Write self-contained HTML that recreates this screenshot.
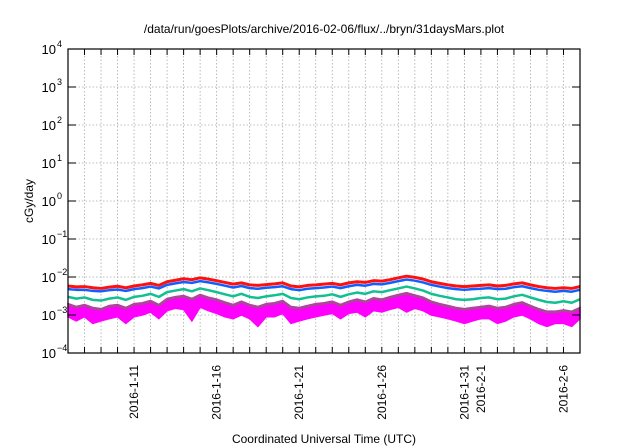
<!DOCTYPE html>
<html><head><meta charset="utf-8"><style>
html,body{margin:0;padding:0;background:#fff;width:640px;height:448px;overflow:hidden}
text{font-family:"Liberation Sans",sans-serif;fill:#000}
</style></head><body>
<svg id="chart" width="640" height="448" viewBox="0 0 640 448" xmlns="http://www.w3.org/2000/svg">
<text x="324" y="33" font-size="12" text-anchor="middle">/data/run/goesPlots/archive/2016-02-06/flux/../bryn/31daysMars.plot</text>
<text transform="translate(33,201) rotate(-90)" font-size="12" text-anchor="middle">cGy/day</text>
<text x="324" y="443" font-size="12" text-anchor="middle">Coordinated Universal Time (UTC)</text>
<g id="grid"></g><g id="series"></g><g id="axes"></g>
</svg>
<script>
const decades = [-4,-3,-2,-1,0,1,2,3,4];
const dayCount = 31;
const xLabelDays = [4,9,14,19,24,25,30];
const xLabels = ["2016-1-11","2016-1-16","2016-1-21","2016-1-26","2016-1-31","2016-2-1","2016-2-6"];
const red = [0.0058,0.0055,0.0056,0.0052,0.0050,0.0054,0.0057,0.0052,0.0058,0.0062,0.0068,0.0060,0.0075,0.0082,0.0090,0.0085,0.0095,0.0088,0.0080,0.0072,0.0065,0.0070,0.0062,0.0060,0.0063,0.0066,0.0070,0.0058,0.0055,0.0060,0.0062,0.0065,0.0068,0.0062,0.0070,0.0075,0.0072,0.0080,0.0078,0.0085,0.0095,0.0105,0.0098,0.0088,0.0075,0.0068,0.0062,0.0058,0.0056,0.0058,0.0060,0.0062,0.0058,0.0060,0.0066,0.0070,0.0062,0.0056,0.0052,0.0050,0.0052,0.0050,0.0056];
const blue = [0.0048,0.0046,0.0046,0.0043,0.0042,0.0045,0.0047,0.0043,0.0048,0.0051,0.0056,0.0050,0.0062,0.0068,0.0074,0.0070,0.0078,0.0072,0.0066,0.0059,0.0053,0.0058,0.0051,0.0049,0.0052,0.0054,0.0057,0.0048,0.0045,0.0049,0.0051,0.0053,0.0056,0.0051,0.0057,0.0062,0.0059,0.0066,0.0064,0.0070,0.0078,0.0086,0.0080,0.0072,0.0062,0.0056,0.0051,0.0048,0.0046,0.0048,0.0049,0.0051,0.0048,0.0049,0.0054,0.0057,0.0051,0.0046,0.0043,0.0041,0.0043,0.0041,0.0046];
const green = [0.0030,0.0027,0.0029,0.0025,0.0024,0.0027,0.0029,0.0025,0.0030,0.0032,0.0036,0.0030,0.0040,0.0044,0.0048,0.0042,0.0050,0.0045,0.0040,0.0035,0.0031,0.0036,0.0030,0.0028,0.0031,0.0033,0.0036,0.0028,0.0026,0.0029,0.0031,0.0032,0.0035,0.0030,0.0035,0.0039,0.0036,0.0042,0.0040,0.0045,0.0050,0.0056,0.0050,0.0044,0.0036,0.0032,0.0029,0.0026,0.0025,0.0026,0.0028,0.0029,0.0026,0.0027,0.0031,0.0034,0.0029,0.0025,0.0022,0.0021,0.0023,0.0021,0.0026];
const purple = [0.0019,0.0016,0.0018,0.0015,0.0014,0.0017,0.0018,0.0015,0.0019,0.0020,0.0023,0.0018,0.0026,0.0029,0.0031,0.0026,0.0033,0.0028,0.0025,0.0021,0.0018,0.0022,0.0018,0.0016,0.0019,0.0020,0.0023,0.0016,0.0015,0.0017,0.0019,0.0020,0.0022,0.0018,0.0022,0.0025,0.0022,0.0027,0.0025,0.0029,0.0033,0.0037,0.0032,0.0028,0.0022,0.0019,0.0017,0.0015,0.0014,0.0015,0.0016,0.0017,0.0015,0.0016,0.0019,0.0021,0.0017,0.0014,0.0012,0.0012,0.0013,0.0012,0.0015];
const magentaLow = [0.0009,0.0007,0.0009,0.0006,0.0007,0.0008,0.0009,0.0006,0.0009,0.0010,0.0012,0.0008,0.0013,0.0015,0.0014,0.0007,0.0016,0.0013,0.0011,0.0009,0.0008,0.0010,0.0008,0.0005,0.0009,0.0009,0.0011,0.0006,0.0007,0.0008,0.0009,0.0010,0.0011,0.0008,0.0011,0.0012,0.0009,0.0013,0.0012,0.0014,0.0016,0.0012,0.0015,0.0013,0.0010,0.0009,0.0008,0.0007,0.0006,0.0007,0.0008,0.0008,0.0006,0.0007,0.0009,0.0010,0.0008,0.0006,0.0005,0.0006,0.0006,0.0005,0.0008];

const L=68,R=580,T=49,B=353;
const NS="http://www.w3.org/2000/svg";
function xScale(d){return L+(R-L)*d/dayCount;}
function yScale(v){return B-(B-T)*(Math.log10(v)+4)/8;}
function mk(tag,attrs,parent){const e=document.createElementNS(NS,tag);for(const k in attrs)e.setAttribute(k,attrs[k]);parent.appendChild(e);return e;}
const grid=document.getElementById('grid'),ser=document.getElementById('series'),axes=document.getElementById('axes');
for(let d=1;d<dayCount;d++){
  const x=xScale(d);
  const g=mk('line',{x1:x,x2:x,y1:T,y2:B,stroke:'#aaa','stroke-width':0.8,'stroke-dasharray':'1.5,2'},grid);
  
  
  const t1=mk('line',{x1:x,x2:x,y1:B,y2:B-6,stroke:'#000','stroke-width':1},axes);
  
  
  const t2=mk('line',{x1:x,x2:x,y1:T,y2:T+6,stroke:'#000','stroke-width':1},axes);
  
  
}
decades.forEach(p=>{
  const y=yScale(Math.pow(10,p));
  if(p>-4&&p<4){
    const g=mk('line',{x1:L,x2:R,y1:y,y2:y,stroke:'#aaa','stroke-width':0.8,'stroke-dasharray':'1.5,2'},grid);
    
    
  }
  mk('line',{x1:L,x2:L+8,y1:y,y2:y,stroke:'#000'},axes);
  mk('line',{x1:R,x2:R-8,y1:y,y2:y,stroke:'#000'},axes);
  const t=mk('text',{x:56,y:y+5,'font-size':13,'text-anchor':'end'},axes);
  
  
  t.textContent='10';
  const s=mk('text',{x:57,y:y-2,'font-size':9},axes);
  
  
  s.textContent=String(p).replace('-','\u2212');
});
xLabelDays.forEach((d,i)=>{
  const x=xScale(d);
  const t=mk('text',{transform:`translate(${x+4},365) rotate(-90)`,'font-size':12,'text-anchor':'end'},axes);
  
  
  t.textContent=xLabels[i];
});
function xs(i,n){return xScale(i*dayCount/(n-1));}
// magenta band
let pts=purple.map((v,i)=>xs(i,purple.length)+','+yScale(v*1.05));
for(let i=magentaLow.length-1;i>=0;i--)pts.push(xs(i,magentaLow.length)+','+yScale(magentaLow[i]));
const band=mk('polygon',{points:pts.join(' '),fill:'#ff00ff',stroke:'#ff00ff','stroke-width':1.5},ser);


function line(arr,color,w,name){
  const p=mk('polyline',{points:arr.map((v,i)=>xs(i,arr.length)+','+yScale(v)).join(' '),fill:'none',stroke:color,'stroke-width':w,'stroke-linejoin':'round'},ser);
  
  
}
line(purple,'#a0508a',2.5,'purple-series');
line(green,'#10c090',2.5,'green-series');
line(red,'#ff1010',3,'red-series');
line(blue,'#1060ff',2.5,'blue-series');
const fr=mk('rect',{x:L,y:T,width:R-L,height:B-T,fill:'none',stroke:'#000','stroke-width':1.2},axes);


</script>
</body></html>
